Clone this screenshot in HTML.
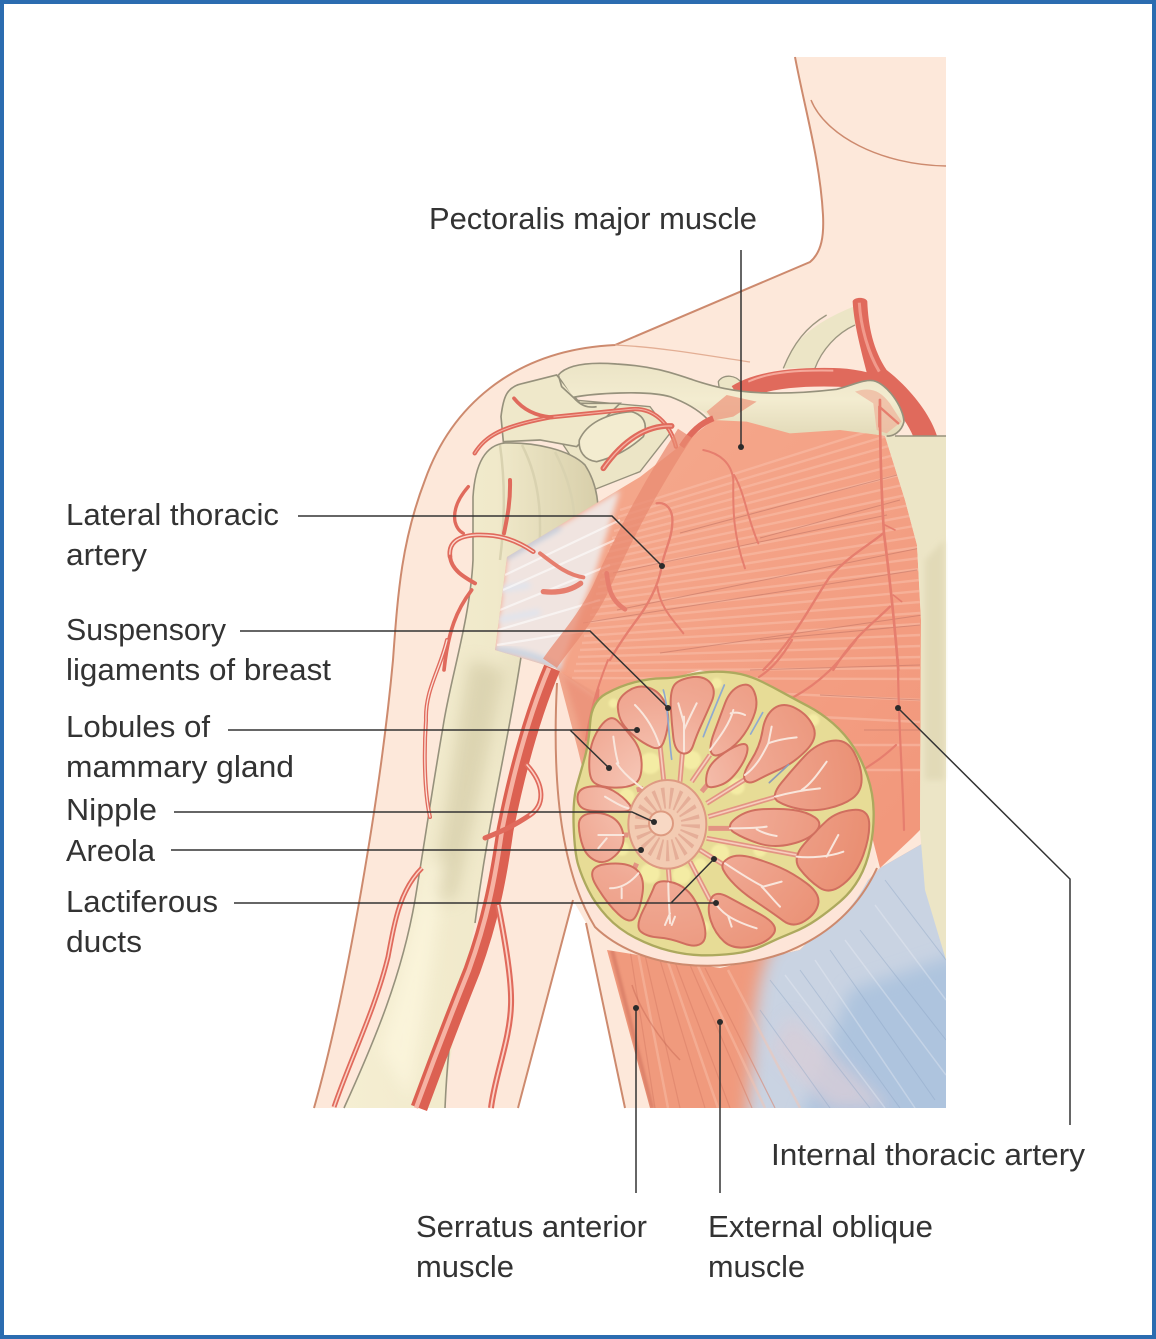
<!DOCTYPE html>
<html><head><meta charset="utf-8"><style>
html,body{margin:0;padding:0;background:#fff}
svg{display:block}
text{font-family:"Liberation Sans",sans-serif;font-size:31px;fill:#333}
</style></head><body>
<svg width="1156" height="1339" viewBox="0 0 1156 1339" xmlns="http://www.w3.org/2000/svg">
<defs>
<filter id="b1" x="-20%" y="-20%" width="140%" height="140%"><feGaussianBlur stdDeviation="1"/></filter>
<filter id="b3" x="-20%" y="-20%" width="140%" height="140%"><feGaussianBlur stdDeviation="3"/></filter>
<filter id="b8" x="-30%" y="-30%" width="160%" height="160%"><feGaussianBlur stdDeviation="8"/></filter>
<radialGradient id="lob" gradientUnits="userSpaceOnUse" cx="300" cy="400" r="620">
<stop offset="0" stop-color="#f8cfc0"/><stop offset=".45" stop-color="#f0a994"/><stop offset="1" stop-color="#ea9074"/></radialGradient>
<linearGradient id="bone" x1="0" y1="0" x2="1" y2="0"><stop offset="0" stop-color="#f5eed2"/><stop offset=".6" stop-color="#f0e9ca"/><stop offset="1" stop-color="#d8cfaa"/></linearGradient>
<linearGradient id="bone2" x1="0" y1="0" x2="0" y2="1"><stop offset="0" stop-color="#ebe4c6"/><stop offset=".5" stop-color="#f3ecd0"/><stop offset="1" stop-color="#e2dab8"/></linearGradient>
<linearGradient id="pec" x1="0" y1="0" x2="1" y2="1"><stop offset="0" stop-color="#f5ac90"/><stop offset="1" stop-color="#f2967a"/></linearGradient>
<clipPath id="pecClip"><path d="M495 650L507 557L640 477L713 420L790 420L885 436L905 500L917 545L921 620L920 830L912 838L880 868L860 790L780 690L700 670L600 700L555 668Z"/></clipPath>
<clipPath id="lowClip"><path d="M607 950L650 1108H946V830L880 868L800 950L720 968Z"/></clipPath>
<clipPath id="boneClip"><path d="M344 1108C375 1040 402 975 415 900C425 840 432 790 443 727C450 680 470 620 473 560L473 497C475 465 485 445 505 443C535 442 570 450 585 465C598 485 600 510 596 520L560 580L521 657C505 760 490 810 475 923C460 1000 448 1060 445 1108Z"/></clipPath>
</defs>
<rect width="1156" height="1339" fill="#fff"/>
<rect x="2" y="2" width="1152" height="1335" fill="none" stroke="#2b6cb0" stroke-width="4"/>

<!-- skin -->
<path d="M314 1108C345 1000 380 800 393 660C398 590 402 540 425 480C450 410 510 350 615 345L810 262C822 252 824 235 823 215C820 160 805 110 795 57H946V1108H625L586 923L573 900L518 1108Z" fill="#fde8da"/>
<path d="M314 1108C345 1000 380 800 393 660C398 590 402 540 425 480C450 410 510 350 615 345L810 262C822 252 824 235 823 215C820 160 805 110 795 57" fill="none" stroke="#cd8a6e" stroke-width="2"/>
<path d="M811 100C825 135 880 165 946 166" fill="none" stroke="#cd8a6e" stroke-width="1.5"/>
<path d="M615 345C660 347 710 356 750 362" fill="none" stroke="#e3ae94" stroke-width="1.3"/>
<path d="M518 1108L573 900M586 923L625 1108" fill="none" stroke="#cd8a6e" stroke-width="2"/>

<!-- first rib, scapula -->
<g transform="translate(440 290) scale(.3333)">
<path d="M1030 235C1060 150 1120 100 1240 50L1250 100C1190 130 1145 180 1125 235Z" fill="#ece5c6"/>
<path d="M1030 235C1060 160 1100 110 1160 75M1125 235C1145 180 1190 130 1245 105" fill="none" stroke="#9c9680" stroke-width="4"/>
<path d="M460 600L600 545L690 430L630 350L400 330L360 450Z" fill="#ece5c6" stroke="#96917c" stroke-width="4"/>
<path d="M183 380C190 320 200 290 250 280L350 255L420 340L540 340L410 470L300 450L190 455Z" fill="#efe8ca" stroke="#96917c" stroke-width="5"/>
<path d="M418 450C440 400 500 370 575 365C610 375 625 400 610 440C570 475 530 500 470 515C430 510 415 480 418 450Z" fill="#f3ecd0" stroke="#96917c" stroke-width="5"/>
<path d="M835 275C850 250 890 255 905 280V310H840Z" fill="#ece5c6" stroke="#96917c" stroke-width="4"/>
<!-- subclavian & arch behind clavicle -->
<path d="M1238 34C1242 20 1278 20 1282 34C1285 110 1300 180 1340 240C1410 295 1470 370 1492 440H1420C1400 390 1350 330 1285 265C1260 170 1242 100 1238 34Z" fill="#e06a5c"/>
<path d="M1258 38C1262 110 1285 190 1318 245" fill="none" stroke="#f19a8c" stroke-width="9"/>
<path d="M890 312C960 268 1080 260 1180 262C1230 262 1290 275 1330 292" fill="none" stroke="#e06a5c" stroke-width="56"/>
<path d="M925 275C990 245 1080 240 1180 242" fill="none" stroke="#f5a99b" stroke-width="6"/>
</g>

<!-- humerus -->
<path d="M344 1108C375 1040 402 975 415 900C425 840 432 790 443 727C450 680 470 620 473 560L473 497C475 465 485 445 505 443C535 442 570 450 585 465C598 485 600 510 596 520L560 580L521 657C505 760 490 810 475 923C460 1000 448 1060 445 1108Z" fill="url(#bone)"/>
<g clip-path="url(#boneClip)">
<path d="M470 660C455 740 445 830 430 900L455 900C475 820 490 740 505 670Z" fill="#c8bf98" filter="url(#b8)" opacity=".5"/>
<path d="M380 1050C400 980 415 920 425 860L445 860C435 950 420 1040 410 1100Z" fill="#fff9e2" filter="url(#b8)" opacity=".6"/>
<path d="M500 445C505 480 505 520 500 560M522 445C540 480 545 520 535 590M555 452C575 490 580 530 570 570" fill="none" stroke="#d9d2b0" stroke-width="2.5"/>
</g>
<path d="M344 1108C375 1040 402 975 415 900C425 840 432 790 443 727C450 680 470 620 473 560L473 497C475 465 485 445 505 443C535 442 570 450 585 465C598 485 600 510 596 520" fill="none" stroke="#96917c" stroke-width="1.6"/>
<path d="M521 657C505 760 490 810 475 923" fill="none" stroke="#96917c" stroke-width="1.6"/>
<path d="M445 1108C446 1085 447 1070 449 1050" fill="none" stroke="#96917c" stroke-width="1.6"/>

<!-- lower muscle: serratus & oblique -->
<g clip-path="url(#lowClip)">
<rect x="600" y="830" width="346" height="280" fill="#f09a7d"/>
<path d="M920 800L1000 800V1150H742C757 1060 748 1000 770 950L850 880Z" fill="#c9d3e2" filter="url(#b8)"/>
<path d="M850 990L1000 940V1150H790Z" fill="#aec4de" filter="url(#b8)"/>
<path d="M790 1015L890 1108H830L770 1050Z" fill="#d8cdd8" filter="url(#b8)" opacity=".8"/>
<g fill="none" stroke="#d97f68" stroke-width="1.2" opacity=".55">
<path d="M630 950L655 1108M645 955L680 1108M660 960L705 1108M675 962L730 1108M690 965L752 1108M705 968L775 1108"/>
</g>
<g fill="none" stroke="#f8c3ae" stroke-width="2.5" opacity=".45">
<path d="M638 952L668 1108M668 962L718 1108M698 966L765 1108M728 970L800 1108"/>
</g>
<g fill="none" stroke="#8aa2c4" stroke-width="1" opacity=".4">
<path d="M770 980L870 1108M800 970L900 1108M830 950L935 1100M860 930L946 1040M885 880L946 960M760 1010L830 1108"/>
</g>
<g fill="none" stroke="#eef0f5" stroke-width="1.5" opacity=".35">
<path d="M785 975L885 1108M815 960L915 1108M845 940L946 1075M875 905L946 1000"/>
</g>
<path d="M612 950L652 1108" stroke="#c96c58" stroke-width="4" opacity=".5" filter="url(#b1)"/>
<path d="M632 985C640 1010 660 1040 680 1060" fill="none" stroke="#c96c58" stroke-width="1.5" opacity=".5"/>
</g>

<!-- pectoralis -->
<g clip-path="url(#pecClip)">
<rect x="480" y="400" width="450" height="480" fill="url(#pec)"/>
<path d="M495 650L507 557L620 490L596 570L560 668Z" fill="#f0e4e0" filter="url(#b3)"/>
<path d="M498 590L530 585M498 620L540 612" stroke="#dfe4ee" stroke-width="6" filter="url(#b3)"/>
<path d="M505 558L560 527" stroke="#bcd0e4" stroke-width="5" filter="url(#b3)"/>
<path d="M495 650C520 650 540 658 560 668" stroke="#c4d2e2" stroke-width="6" fill="none" filter="url(#b3)"/>
<g fill="none" stroke="#f8bda6" stroke-width="2.4" opacity=".6">
<path d="M620 510L920 415M618 517L920 426M616 524L920 437M614 531L920 448M612 538L920 459M610 545L920 470M608 552L920 481M606 559L920 492M604 566L920 503M602 573L920 514M600 580L920 525M598 587L920 536M596 594L920 547M594 601L920 558M592 608L920 569M590 615L920 580M588 622L920 591M586 629L920 602M584 636L920 613M582 643L920 624M580 650L920 635M578 657L920 646M576 664L920 657M574 671L920 668M572 678L920 679M700 690L920 700M780 715L920 722M840 745L920 745M860 770L920 770"/>
</g>
<path d="M505 575L620 520M503 590L615 540M500 610L610 565M498 630L600 600M497 645L590 630" fill="none" stroke="#fff" stroke-width="2.2" opacity=".55"/>
<g fill="none" stroke="#bf7264" stroke-width="1" opacity=".55">
<path d="M680 533L897 475M760 538L900 500M613 573L887 515M617 610L920 548M583 623L917 570M660 653L923 615M760 640L920 625M750 670L920 665M864 730L919 730M820 695L920 700"/>
</g>
</g>

<!-- sternum -->
<path d="M885 436H946V960L925 890L920 830L921 620L917 545L905 500Z" fill="#ece5c6"/>
<path d="M925 560L944 540V780L925 780Z" fill="#ded6b2" filter="url(#b3)" opacity=".7"/>
<path d="M895 436H946" stroke="#96917c" stroke-width="1.5"/>

<!-- clavicle -->
<g transform="translate(440 290) scale(.3333)">
<path d="M800 365L860 315L950 335L880 380L820 392Z" fill="#ee9a80" opacity=".01"/>
<path d="M355 255C380 225 440 215 530 222C640 228 700 250 760 270C820 290 880 305 960 308C1040 312 1130 305 1190 298C1240 285 1270 268 1300 272C1340 280 1390 350 1392 395C1385 425 1360 440 1340 438L1200 420L1050 430L920 395L820 390L790 365L740 340C700 320 620 305 520 310L400 322Z" fill="url(#bone2)"/>
<path d="M355 255C380 225 440 215 530 222C640 228 700 250 760 270C820 290 880 305 960 308C1040 312 1130 305 1190 298C1240 285 1270 268 1300 272C1340 280 1390 350 1392 395C1385 425 1360 440 1340 438M355 255L365 290L400 322C420 345 440 355 470 350M400 322C460 310 620 300 690 320C730 335 770 355 800 385" fill="none" stroke="#96917c" stroke-width="5"/>
<path d="M800 365L860 315L950 335L880 380L820 392Z" fill="#ee9a80" opacity=".75" filter="url(#b1)"/>
<path d="M1245 305C1290 290 1320 300 1350 340L1385 395L1340 430L1310 420L1300 340Z" fill="#f0b49c" opacity=".7" filter="url(#b1)"/>
</g>

<!-- breast skin -->
<path d="M557 683C552 780 560 870 595 927C640 970 720 975 784 953C830 935 860 905 877 860L860 800L700 700L600 700Z" fill="#fde5d8"/>
<path d="M557 683C552 780 560 870 595 927C640 970 720 975 784 953C830 935 860 905 877 868" fill="none" stroke="#cd8a6e" stroke-width="2"/>
<path d="M557 670L600 695L590 800L578 750Z" fill="#ee9f84" opacity=".9"/>
<path d="M563 675L600 700L592 780L577 720Z" fill="#ea8a72" filter="url(#b3)" opacity=".6"/>

<!-- arteries -->
<g fill="none" stroke-linecap="round" stroke-linejoin="round">
<g transform="translate(440 290) scale(.3333)">
<path d="M104 490C135 440 180 410 330 382C400 375 500 365 570 358C640 350 690 400 708 470" stroke="#e06a5c" stroke-width="13"/>
<path d="M104 490C135 440 180 410 330 382C400 375 500 365 570 358C640 350 690 400 708 470" stroke="#f5b0a2" stroke-width="3"/>
<path d="M222 325C250 360 290 378 335 382" stroke="#e06a5c" stroke-width="11"/>
<path d="M490 535C550 450 620 405 695 408" stroke="#e06a5c" stroke-width="17"/>
<path d="M490 535C550 450 620 405 695 408" stroke="#f5b0a2" stroke-width="4"/>
<path d="M725 470C750 430 780 400 820 385" stroke="#e06a5c" stroke-width="18" stroke-linecap="butt"/>
<path d="M210 570C212 640 200 690 192 730" stroke="#e06a5c" stroke-width="12"/>
<path d="M30 800C25 760 50 738 110 735C170 733 220 745 280 785" stroke="#e06a5c" stroke-width="14"/>
<path d="M30 800C25 760 50 738 110 735C170 733 220 745 280 785" stroke="#fbd8cc" stroke-width="4"/>
<path d="M30 800C35 840 70 860 105 880" stroke="#e06a5c" stroke-width="12"/>
<path d="M85 590C50 630 40 665 45 695C50 715 60 725 70 730" stroke="#e06a5c" stroke-width="10"/>
<path d="M95 900C50 960 25 1020 12 1140" stroke="#e06a5c" stroke-width="11"/>
</g>
<path d="M552 668C530 720 515 780 505 830C498 880 490 920 472 970C448 1030 433 1070 419 1108" stroke="#dc6152" stroke-width="17" stroke-linecap="butt"/>
<path d="M549 668C527 720 512 780 502 830C495 880 487 920 469 970C445 1030 430 1070 416 1108" stroke="#f6b3a4" stroke-width="4.5" stroke-linecap="butt"/>
<path d="M498 905C505 940 512 980 511 1005C510 1040 495 1075 491 1108" stroke="#e06a5c" stroke-width="6" stroke-linecap="butt"/>
<path d="M498 905C505 940 512 980 511 1005C510 1040 495 1075 491 1108" stroke="#fbd2c6" stroke-width="1.8" stroke-linecap="butt"/>
<path d="M527 765C545 785 545 805 530 815C515 825 505 830 485 838" stroke="#e06a5c" stroke-width="5"/>
<path d="M527 765C545 785 545 805 530 815" stroke="#fbd2c6" stroke-width="1.6"/>
<path d="M447 640C440 670 425 690 426 720C424 750 424 790 430 817" stroke="#e06a5c" stroke-width="4"/>
<path d="M447 640C440 670 425 690 426 720C424 750 424 790 430 817" stroke="#fbe3da" stroke-width="1.3"/>
<path d="M422 868C400 890 395 920 388 957C375 1010 350 1060 334 1107" stroke="#e06a5c" stroke-width="5" stroke-linecap="butt"/>
<path d="M422 868C400 890 395 920 388 957C375 1010 350 1060 334 1107" stroke="#fbd2c6" stroke-width="1.5" stroke-linecap="butt"/>

<g transform="translate(440 290) scale(.3333)" stroke="#e67e6e">
<path d="M735 430C650 560 560 720 480 900C430 1000 370 1060 330 1120" stroke="#ea8b72" stroke-width="50" opacity=".75" stroke-linecap="butt"/>
<path d="M650 640C680 635 700 660 697 700C695 750 670 790 665 830C655 890 620 950 590 990C560 1030 530 1075 510 1110" stroke-width="7"/>
<path d="M652 890C660 950 695 985 730 1030" stroke-width="6"/>
<path d="M500 850C505 890 510 930 555 958" stroke-width="14"/>
<path d="M300 790C340 820 380 855 430 862" stroke-width="12"/>
<path d="M310 905C360 910 395 900 422 880" stroke-width="16"/>
<path d="M790 480C840 490 875 520 880 570C880 640 875 720 915 835" stroke-width="6"/>
<path d="M882 555C915 610 920 680 955 760" stroke-width="6"/>
<path d="M1320 330C1320 480 1325 620 1332 730C1345 830 1360 950 1375 1140" stroke-width="8"/>
<path d="M1330 730C1280 770 1230 795 1170 860C1120 930 1070 1040 970 1140" stroke-width="7"/>
<path d="M1350 950C1300 1000 1240 1040 1180 1140" stroke-width="7"/>
<path d="M1335 705L1365 720M1360 915L1385 935" stroke-width="5"/>
<path d="M1318 350L1375 400M1318 350V410" stroke-width="7"/>
</g>
<g stroke="#e67e6e" stroke-width="2.2">
<path d="M898 660C898 720 903 780 904 830"/>
<path d="M896 745C880 760 870 765 860 772"/>
<path d="M856 640C840 660 825 680 792 698"/>
<path d="M792 640C780 660 770 670 759 677"/>
<path d="M598 690L592 760" stroke-width="3"/>
<path d="M608 660C600 680 590 710 586 740" stroke-width="2"/>
</g>
</g>

<!-- gland -->
<g transform="translate(560 660) scale(.3333)">
<path d="M90.5 187.5Q95 125 137.5 101.5T225 66.5T305 55T385 45T470 35T542.5 42.5T607.5 66T672.5 100T745 139T820 191T880 260T922.5 349T941 455T931 562.5T897.5 655T840 725T770 779T695 819T613.5 855T521 881T424 886T328 872.5T227 834T141 770T86 692T55 616T41 500T51 375T75 290T90.5 187.5Z" fill="#e7dc96" stroke="#ada95e" stroke-width="7"/>
<g fill="#f4eca4" filter="url(#b3)">
<circle cx="270" cy="310" r="32"/><circle cx="200" cy="410" r="24"/><circle cx="185" cy="565" r="22"/><circle cx="270" cy="640" r="30"/><circle cx="365" cy="645" r="28"/><circle cx="420" cy="615" r="20"/><circle cx="395" cy="300" r="28"/><circle cx="530" cy="380" r="24"/><circle cx="480" cy="580" r="28"/><circle cx="600" cy="570" r="20"/><circle cx="300" cy="120" r="22"/><circle cx="470" cy="70" r="16"/><circle cx="760" cy="180" r="18"/><circle cx="520" cy="760" r="18"/><circle cx="430" cy="800" r="18"/><circle cx="160" cy="130" r="14"/><circle cx="700" cy="400" r="14"/>
</g>
<g fill="none" stroke-linecap="butt">
<g stroke="#e39483" stroke-width="15">
<path d="M300 255L312 370M230 390L250 385M368 270L360 365M450 285L395 365M450 365L425 395M560 355L440 430M650 410L445 470M510 505L445 505M710 585L440 535M500 620L420 570M450 720L390 605M330 690L325 625M230 610L190 700M190 525L205 525M205 445L180 420"/>
</g>
<g stroke="#f7cdbd" stroke-width="5">
<path d="M300 255L312 370M368 270L360 365M450 285L395 365M560 355L440 430M650 410L445 470M710 585L440 535M500 620L420 570M450 720L390 605M330 690L325 625"/>
</g>
</g>
<g fill="url(#lob)" stroke="#d06f5f" stroke-width="6">
<path d="M173.5 142.5Q172 115 203.5 93.5T267.5 83.5T314 127.5T324 192.5T310 248.5T275 261T225 230T187.5 190T173.5 142.5Z"/>
<path d="M97.5 362.5Q85 345 88.5 292.5T121 200T172.5 182.5T220 237.5T245 315T222.5 372.5T155 382.5T97.5 362.5Z"/>
<path d="M52.5 417.5Q50 385 90 380T160 392.5T207.5 432.5T182.5 455T97.5 452.5T52.5 417.5Z"/>
<path d="M56.5 497.5Q55 465 92.5 460T157.5 472.5T190 525T165 587.5T107.5 602.5T69 560T56.5 497.5Z"/>
<path d="M107.5 675Q75 620 137.5 612.5T227.5 627.5T247.5 700T225 772.5T175 762.5T107.5 675Z"/>
<path d="M242.5 815Q225 800 250 750T282.5 680T325 665T385 695T427.5 775T427.5 847.5T370 850T295 832.5T242.5 815Z"/>
<path d="M452.5 782.5Q440 745 452.5 717.5T502.5 710T600 762.5T640 822.5T570 860T492.5 845T452.5 782.5Z"/>
<path d="M490 630Q480 610 505 595T575 592.5T660 622.5T740 670T775 730T735 782.5T670 782.5T595 730T525 675T490 630Z"/>
<path d="M720 627.5Q695 595 732.5 552.5T800 482.5T877.5 450T927.5 487.5T910 585T850 672.5T777.5 682.5T720 627.5Z"/>
<path d="M522.5 517.5Q495 500 527.5 475T610 447.5T700 450T765 472.5T767.5 515T692.5 552.5T595 550T522.5 517.5Z"/>
<path d="M655 425Q630 410 665 367.5T735 287.5T815 242.5T882.5 277.5T905 357.5T877.5 415T805 445T720 447.5T655 425Z"/>
<path d="M555 360Q545 345 572.5 302.5T607.5 212.5T642.5 145T707.5 145T760 200T737.5 272.5T660 327.5T592.5 360T555 360Z"/>
<path d="M445 380Q435 375 440 345T477.5 290T537.5 255T562.5 270T535 330T482.5 375T445 380Z"/>
<path d="M455 280Q445 265 462.5 217.5T495 130T540 77.5T582.5 95T585 157.5T552.5 222.5T497.5 275T455 280Z"/>
<path d="M332.5 145Q330 100 340 80T390 52.5T450 67.5T455 125T425 192.5T400 255T367.5 280T340 232.5T332.5 145Z"/>
</g>
<g fill="none" stroke="#f9e6dc" stroke-width="6" stroke-linecap="round" stroke-linejoin="round">
<path d="M298 255C280 200 250 160 225 135M170 310C190 340 220 365 248 385M160 230C165 270 170 295 175 310M135 410C160 425 185 440 205 445M190 525C160 525 140 525 115 525M140 535L115 565M235 640C210 670 180 685 150 685M185 685L185 715M325 670C325 720 330 770 330 790M330 760L315 795M345 770L335 795M460 720C480 755 510 780 590 805M505 770L515 800M495 610C540 640 590 670 610 680M610 680L665 665M605 680C625 700 640 720 660 740M710 590C750 595 810 590 850 575M800 590L835 525M645 410C680 400 730 390 780 385M725 390C750 375 775 340 800 305M555 345C590 320 610 280 625 250M625 250C650 240 680 235 710 232M625 250L635 200M450 270C480 230 510 190 520 150M512 160C530 155 545 160 555 165M372 275V170M372 210C385 180 400 150 410 130M372 190L355 130M510 505C550 505 590 505 620 500M590 508C610 520 630 525 650 528"/>
</g>
<g fill="none" stroke="#8fa9d0" stroke-width="5" stroke-linecap="round">
<path d="M310 90C325 140 325 220 335 298M493 75C470 130 445 190 430 230M608 158L572 222"/>
<path d="M686 314L628 368" stroke="#8d9bb8"/>
</g>
<ellipse cx="322" cy="493" rx="117" ry="133" fill="#f3cbb2" stroke="#de9a82" stroke-width="6"/>
<g transform="translate(322 493) scale(1 1.13)"><circle r="70" fill="none" stroke="#e5ae98" stroke-width="56" stroke-dasharray="8 13"/></g>
<circle cx="303" cy="490" r="36" fill="#f8d8c4" stroke="#dd9a80" stroke-width="6"/>
</g>

<!-- leaders -->
<g fill="none" stroke="#333" stroke-width="1.5">
<path d="M741 250V447M298 516H612L662 566M240 631H590L668 708M228 730H637M570 730L609 768M174 812H632L654 822M171 850H641M234 903H716M671 903L714 859M898 708L1070 879V1125M636 1008V1193M720 1022V1193"/>
</g>
<g fill="#2b2b2b">
<circle cx="741" cy="447" r="3"/><circle cx="662" cy="566" r="3"/><circle cx="668" cy="708" r="3"/><circle cx="637" cy="730" r="3"/><circle cx="609" cy="768" r="3"/><circle cx="654" cy="822" r="3"/><circle cx="641" cy="850" r="3"/><circle cx="716" cy="903" r="3"/><circle cx="714" cy="859" r="3"/><circle cx="898" cy="708" r="3"/><circle cx="636" cy="1008" r="3"/><circle cx="720" cy="1022" r="3"/>
</g>

<!-- labels -->
<g>
<text x="429" y="229" textLength="328" lengthAdjust="spacingAndGlyphs">Pectoralis major muscle</text>
<text x="66" y="525" textLength="213" lengthAdjust="spacingAndGlyphs">Lateral thoracic</text>
<text x="66" y="565" textLength="81" lengthAdjust="spacingAndGlyphs">artery</text>
<text x="66" y="640" textLength="160" lengthAdjust="spacingAndGlyphs">Suspensory</text>
<text x="66" y="680" textLength="265" lengthAdjust="spacingAndGlyphs">ligaments of breast</text>
<text x="66" y="737" textLength="144" lengthAdjust="spacingAndGlyphs">Lobules of</text>
<text x="66" y="777" textLength="228" lengthAdjust="spacingAndGlyphs">mammary gland</text>
<text x="66" y="820" textLength="91" lengthAdjust="spacingAndGlyphs">Nipple</text>
<text x="66" y="861" textLength="89" lengthAdjust="spacingAndGlyphs">Areola</text>
<text x="66" y="912" textLength="152" lengthAdjust="spacingAndGlyphs">Lactiferous</text>
<text x="66" y="952" textLength="76" lengthAdjust="spacingAndGlyphs">ducts</text>
<text x="771" y="1165" textLength="314" lengthAdjust="spacingAndGlyphs">Internal thoracic artery</text>
<text x="416" y="1237" textLength="231" lengthAdjust="spacingAndGlyphs">Serratus anterior</text>
<text x="416" y="1277" textLength="98" lengthAdjust="spacingAndGlyphs">muscle</text>
<text x="708" y="1237" textLength="225" lengthAdjust="spacingAndGlyphs">External oblique</text>
<text x="708" y="1277" textLength="97" lengthAdjust="spacingAndGlyphs">muscle</text>
</g>
</svg>
</body></html>
